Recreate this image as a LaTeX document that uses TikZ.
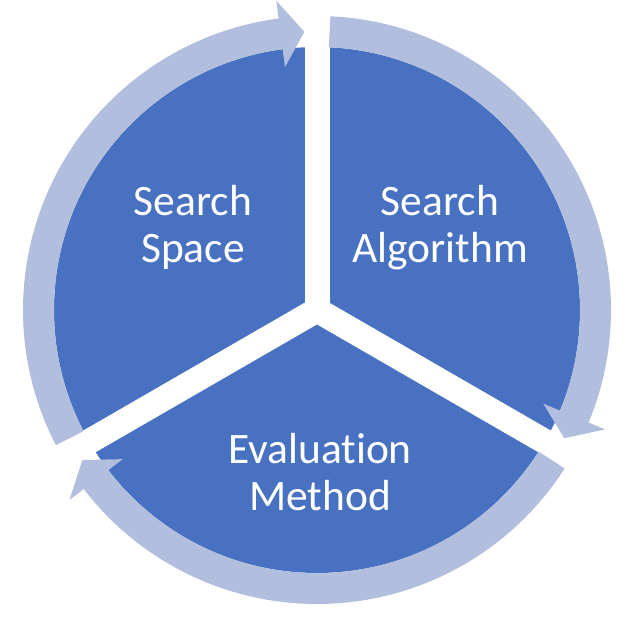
\documentclass[tikz,border=0pt]{standalone}
\usepackage{fontspec}
\setmainfont[Ligatures={NoCommon,NoContextual}]{Carlito}
\definecolor{pieblue}{RGB}{72,114,193}
\definecolor{ringblue}{RGB}{178,190,222}
\begin{document}
\begin{tikzpicture}[
  sectorgap/.style={draw=white, line width=25pt},
  ringarc/.style={draw=ringblue, line width=31pt},
  ringhead/.style={fill=ringblue},
  labeltext/.style={text=white, align=center, font=\fontsize{43.5}{47}\selectfont, inner sep=0pt, anchor=base}
]
\useasboundingbox[fill=white] (-317pt,-308pt) rectangle (317pt,310pt);
% blue disk split into three sectors
\fill[pieblue] (0,0) circle[radius=263pt];
\foreach \a in {90,210,330} \draw[sectorgap] (0,0) -- (\a:272pt);
% ring arrows
\draw[ringarc] (87.4:278.5pt) arc[start angle=87.4, end angle=-23, radius=278.5pt];
\fill[ringhead] (-22.5:245pt) -- (-22.5:312pt) -- (-27.4:278.5pt) -- cycle;
\draw[ringarc] (-32.6:278.5pt) arc[start angle=-32.6, end angle=-143, radius=278.5pt];
\fill[ringhead] (-142.5:245pt) -- (-142.5:312pt) -- (-147.4:278.5pt) -- cycle;
\draw[ringarc] (207.4:278.5pt) arc[start angle=207.4, end angle=97, radius=278.5pt];
\fill[ringhead] (97.5:245pt) -- (97.5:312pt) -- (92.6:278.5pt) -- cycle;
% labels
\node[labeltext] (space) at (-124pt,47pt) {Search\\Space};
\node[labeltext] (algo) at (123pt,47pt) {Search\\Algorithm};
\node[labeltext] (eval) at (3pt,-200pt) {Evaluat\kern0pt ion\\Method};
\end{tikzpicture}
\end{document}
